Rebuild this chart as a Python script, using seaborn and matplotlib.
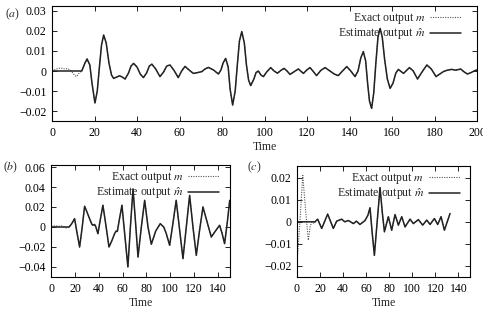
import numpy as np
import matplotlib
matplotlib.use('Agg')
import matplotlib.pyplot as plt
import seaborn as sns
from matplotlib.ticker import FuncFormatter, MultipleLocator


# values (time, output)
a_t = [0, 14, 15.5, 16.5, 17.8, 18.8, 20.2, 21.3, 22.3, 23.3, 24.3, 25.5, 26.8, 28, 29,
       30.5, 31.8, 33, 34.4, 36, 37.2, 38.4, 40, 41.5, 43, 44.5, 45.8, 47, 48.8, 50.8,
       52.5, 54, 55.5, 57.3, 59.4, 61, 62.6, 64.5, 66.5, 68.5, 70.5, 72, 73.6, 76, 78.3,
       79.5, 80.5, 81.7, 82.9, 83.8, 85, 86.2, 87.2, 88.2, 89.3, 90.5, 91.5, 92.5, 93.5,
       95, 96, 97.1, 98.3, 99.5, 101, 102.9, 104.5, 106.1, 107.7, 109.2, 110.6, 112, 114,
       115.9, 117, 118.3, 120, 121.4, 123, 124.5, 126.5, 128.5, 130.8, 132.8, 134.7,
       136.7, 138.7, 140.6, 142.6, 144, 145.3, 146.5, 147.6, 148.5, 149.4, 150.4, 151.4,
       152.4, 153.4, 154.4, 155.4, 156.5, 157.8, 159.1, 160.5, 161.8, 163, 165.4, 168.2,
       170, 172, 174.3, 176.4, 178.5, 180.7, 182.5, 184.2, 186, 188.1, 190, 192.3, 194,
       195.5, 197.2, 199, 200]
a_est = [0, 0, 0.004, 0.006, 0.003, -0.006, -0.016, -0.010, 0.002, 0.013, 0.018, 0.014,
         0.004, -0.002, -0.0037, -0.003, -0.0024, -0.003, -0.004, -0.001, 0.0025, 0.0038,
         0.002, -0.0015, -0.0033, -0.001, 0.0025, 0.0034, 0.001, -0.0028, -0.0005, 0.0025,
         0.003, 0.0005, -0.0033, 0.0, 0.0023, 0.0005, -0.0012, -0.0008, -0.0003, 0.001,
         0.0018, 0.0005, -0.0015, 0.0005, 0.004, 0.0063, 0.002, -0.009, -0.017, -0.010,
         0.003, 0.015, 0.0197, 0.014, 0.003, -0.0045, -0.0073, -0.004, -0.0008, 0.0,
         -0.002, -0.0028, -0.0005, 0.0017, 0.0, -0.0011, 0.0003, 0.0013, 0.0, -0.0017,
         -0.0003, 0.001, 0.0, -0.0012, 0.0006, 0.0017, -0.0003, -0.0023, 0.0003, 0.0017,
         0.0, -0.0015, -0.0023, 0.0, 0.0022, 0.0, -0.0028, 0.0, 0.0065, 0.0097, 0.005,
         -0.006, -0.015, -0.0187, -0.011, 0.004, 0.017, 0.0213, 0.017, 0.006, -0.004,
         -0.0087, -0.006, -0.001, 0.0008, -0.0012, 0.0017, 0.0, -0.004, -0.0002, 0.003,
         0.001, -0.0028, -0.0015, -0.0003, 0.0004, 0.0008, 0.0004, 0.001, -0.0005, -0.0015,
         -0.0008, 0.0002, 0.0005]
# exact output differs from the estimate only at the start
a_exact_t = [0, 2, 4, 6, 7.5, 9, 10.5, 11.5, 12.8]
a_exact_v = [0, 0.001, 0.0015, 0.001, 0.0012, 0.0, -0.002, -0.0028, -0.001]

b_t = [0, 15, 17, 19.6, 21.5, 23.8, 25.8, 28, 30, 32.2, 34, 35, 36.5, 37.5, 39.2, 41.3,
       43.4, 45.5, 48.5, 50.8, 53.2, 54.5, 55.5, 57.3, 59.4, 61.8, 64.4, 66.5, 68.7, 70.8,
       72.9, 75.7, 78.5, 81.3, 84.1, 87.8, 91.6, 94.5, 96.7, 99.5, 102.3, 105, 107.9,
       110.7, 113.5, 116.3, 119.1, 121.9, 124.7, 127.5, 131, 134.5, 138, 141.5, 143.5,
       145.7, 148, 150]
b_est = [0, 0, 0.003, 0.0083, -0.005, -0.02, -0.002, 0.0207, 0.015, 0.0083, 0.003,
         0.0017, 0.0025, 0.0, -0.0067, 0.008, 0.0217, 0.005, -0.02, -0.014, -0.0067,
         -0.004, -0.0045, 0.008, 0.0217, -0.008, -0.04, 0.0, 0.038, 0.005, -0.03, 0.0,
         0.0267, 0.0, -0.0173, -0.004, 0.0033, 0.0, -0.0067, -0.0183, 0.004, 0.0267,
         -0.003, -0.0317, 0.0, 0.0317, 0.0, -0.0283, -0.003, 0.02, 0.005, -0.01, -0.004,
         0.0017, -0.006, -0.0167, 0.005, 0.0267]
b_exact_t = [0, 3, 6, 9, 11, 12.5, 14]
b_exact_v = [0.001, 0.0012, 0.0008, 0.001, 0.0, -0.001, -0.0005]

c_t = [0, 15.6, 17.9, 21.4, 26.6, 31.5, 34.4, 38.7, 41.5, 44.5, 48.9, 51.5, 54.6, 59,
       61.5, 63.3, 65.2, 67.1, 69.5, 72, 74, 75.8, 79.2, 82.1, 85, 87.9, 90.8, 93.7, 98,
       100.9, 105.2, 109, 112.5, 115.4, 119.1, 122, 124.9, 127.8, 132.7]
c_est = [0, 0, 0.0012, -0.003, 0.0035, -0.003, 0.0003, 0.0012, 0.0, 0.0006, -0.0008,
         0.0003, -0.0012, 0.0006, 0.003, 0.0064, -0.005, -0.0152, 0.0, 0.0155, 0.004,
         -0.0045, 0.0023, -0.0038, 0.0033, -0.0015, 0.0023, -0.0023, 0.0012, -0.0008,
         0.001, -0.0015, 0.0008, -0.0012, 0.0015, -0.0012, 0.0023, -0.0038, 0.0038]
c_exact_t = [0, 2.5, 5, 7.5, 9.8, 11.5, 13, 15]
c_exact_v = [-0.019, 0.0, 0.021, 0.005, -0.0083, -0.002, 0.0, -0.0008]


def exact_series(t_head, v_head, t_est, v_est):
    start = t_head[-1]
    t = list(t_head) + [x for x in t_est if x > start]
    v = list(v_head) + [y for x, y in zip(t_est, v_est) if x > start]
    return t, v


def fmt(v, pos):
    if abs(v) < 1e-9:
        return '0'
    return f'{v:.2f}'.replace('-', '\u2212')


sns.set_theme(style='ticks')
plt.rcParams['font.family'] = ['Liberation Serif', 'DejaVu Serif']
plt.rcParams['mathtext.fontset'] = 'stix'
plt.rcParams['axes.linewidth'] = 0.8

fs = 8.5
line_col = '#222222'
dot_col = '#555555'

fig = plt.figure(figsize=(4.83, 3.09), dpi=100)
ax_a = fig.add_axes([0.1077, 0.6084, 0.8799, 0.3722])
ax_b = fig.add_axes([0.1062, 0.1036, 0.3694, 0.3624])
ax_c = fig.add_axes([0.6149, 0.1036, 0.3582, 0.3592])

panels = [
    (ax_a, a_t, a_est, a_exact_t, a_exact_v, (0, 200), 20, (-0.025, 0.0325), 0.01, 0.975),
    (ax_b, b_t, b_est, b_exact_t, b_exact_v, (0, 150), 20, (-0.05, 0.062), 0.02, 0.97),
    (ax_c, c_t, c_est, c_exact_t, c_exact_v, (0, 150), 20, (-0.025, 0.0253), 0.01, 0.97),
]

for ax, t, est, et, ev, xlim, xstep, ylim, ystep, lx in panels:
    ex_t, ex_v = exact_series(et, ev, t, est)
    sns.lineplot(x=ex_t, y=ex_v, ax=ax, sort=False, estimator=None, color=dot_col,
                 linewidth=0.8, linestyle=(0, (1, 1.2)), label=r'Exact output $m$')
    sns.lineplot(x=t, y=est, ax=ax, sort=False, estimator=None, color=line_col,
                 linewidth=1.1, label=r'Estimate output $\hat{m}$')
    ax.set_xlim(*xlim)
    ax.set_ylim(*ylim)
    ax.xaxis.set_major_locator(MultipleLocator(xstep))
    ax.yaxis.set_major_locator(MultipleLocator(ystep))
    ax.yaxis.set_major_formatter(FuncFormatter(fmt))
    ax.tick_params(direction='in', top=True, right=True, length=3.5, width=0.6,
                   labelsize=fs, colors='black', pad=4)
    ax.set_xlabel('Time', fontsize=fs, labelpad=2)
    ax.set_ylabel('')
    for s in ax.spines.values():
        s.set_color('black')
    leg = ax.legend(loc='upper right', bbox_to_anchor=(lx, 1.0), frameon=False,
                    markerfirst=False, fontsize=fs, handlelength=2.6, handletextpad=0.4,
                    labelspacing=0.0, borderaxespad=0.05)
    for txt in leg.get_texts():
        txt.set_ha('right')

fig.text(5 / 483, 1 - 14 / 309, r'($a$)', fontsize=fs, va='center', ha='left')
fig.text(3 / 483, 1 - 167 / 309, r'($b$)', fontsize=fs, va='center', ha='left')
fig.text(247 / 483, 1 - 167 / 309, r'($c$)', fontsize=fs, va='center', ha='left')

fig.savefig('out.png', dpi=100)
